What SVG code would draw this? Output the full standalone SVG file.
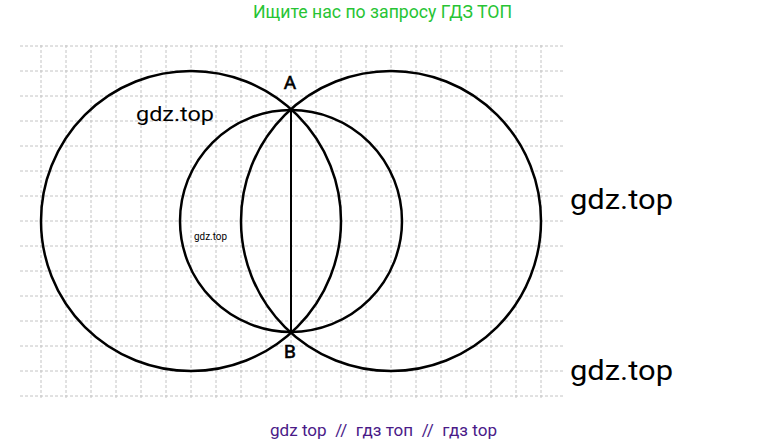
<svg xmlns="http://www.w3.org/2000/svg" width="768" height="445" viewBox="0 0 768 445">
<style>
.grid line{stroke:#c4c4c4;stroke-width:1;stroke-dasharray:3 2}
.c{fill:none;stroke:#000;stroke-width:2.5}
.t{font-family:Roboto,"Liberation Sans",sans-serif;fill:#000}
.p{font-family:Roboto,"Liberation Sans",sans-serif;fill:#000;stroke:#000;stroke-width:0.6}
</style>
<rect width="768" height="445" fill="#fff"/>
<g class="grid" id="grid">
<line x1="41" y1="45" x2="41" y2="399"/><line x1="66" y1="45" x2="66" y2="399"/><line x1="91" y1="45" x2="91" y2="399"/><line x1="116" y1="45" x2="116" y2="399"/><line x1="141" y1="45" x2="141" y2="399"/><line x1="166" y1="45" x2="166" y2="399"/><line x1="191" y1="45" x2="191" y2="399"/><line x1="216" y1="45" x2="216" y2="399"/><line x1="241" y1="45" x2="241" y2="399"/><line x1="266" y1="45" x2="266" y2="399"/><line x1="291" y1="45" x2="291" y2="399"/><line x1="316" y1="45" x2="316" y2="399"/><line x1="341" y1="45" x2="341" y2="399"/><line x1="366" y1="45" x2="366" y2="399"/><line x1="391" y1="45" x2="391" y2="399"/><line x1="416" y1="45" x2="416" y2="399"/><line x1="441" y1="45" x2="441" y2="399"/><line x1="466" y1="45" x2="466" y2="399"/><line x1="491" y1="45" x2="491" y2="399"/><line x1="516" y1="45" x2="516" y2="399"/><line x1="541" y1="45" x2="541" y2="399"/>
<line x1="20" y1="46" x2="564" y2="46"/><line x1="20" y1="71" x2="564" y2="71"/><line x1="20" y1="96" x2="564" y2="96"/><line x1="20" y1="121" x2="564" y2="121"/><line x1="20" y1="146" x2="564" y2="146"/><line x1="20" y1="171" x2="564" y2="171"/><line x1="20" y1="196" x2="564" y2="196"/><line x1="20" y1="221" x2="564" y2="221"/><line x1="20" y1="246" x2="564" y2="246"/><line x1="20" y1="271" x2="564" y2="271"/><line x1="20" y1="296" x2="564" y2="296"/><line x1="20" y1="321" x2="564" y2="321"/><line x1="20" y1="346" x2="564" y2="346"/><line x1="20" y1="371" x2="564" y2="371"/><line x1="20" y1="396" x2="564" y2="396"/>
</g>
<g id="circles">
<circle id="circleLeft" class="c" cx="191" cy="221" r="150"/>
<circle id="circleRight" class="c" cx="391" cy="221" r="150"/>
<circle id="circleMid" class="c" cx="291" cy="221" r="111"/>
</g>
<g id="connectors">
<line x1="291" y1="109" x2="291" y2="333" stroke="#000" stroke-width="2"/>
</g>
<g id="pointA"><text class="p" x="290" y="89" font-size="19" text-anchor="middle">A</text></g>
<g id="pointB"><text class="p" x="290" y="358" font-size="19" text-anchor="middle">B</text></g>
<g id="labels">
<text class="t" x="136" y="121" font-size="21" textLength="78" lengthAdjust="spacingAndGlyphs">gdz.top</text>
<text class="t" x="194" y="240" font-size="10" textLength="33" lengthAdjust="spacingAndGlyphs">gdz.top</text>
<text class="t" x="570" y="209" font-size="28" textLength="103" lengthAdjust="spacingAndGlyphs">gdz.top</text>
<text class="t" x="570" y="380" font-size="28" textLength="103" lengthAdjust="spacingAndGlyphs">gdz.top</text>
<text x="253" y="18" font-family="Roboto,'Liberation Sans',sans-serif" font-size="17.5" fill="#27c434" textLength="259" lengthAdjust="spacingAndGlyphs">Ищите нас по запросу ГДЗ ТОП</text>
<text x="270" y="436" font-family="Roboto,'Liberation Sans',sans-serif" font-size="17" fill="#4a1a88" textLength="227" lengthAdjust="spacingAndGlyphs" xml:space="preserve">gdz top  //  гдз топ  //  гдз top</text>
</g>
</svg>
